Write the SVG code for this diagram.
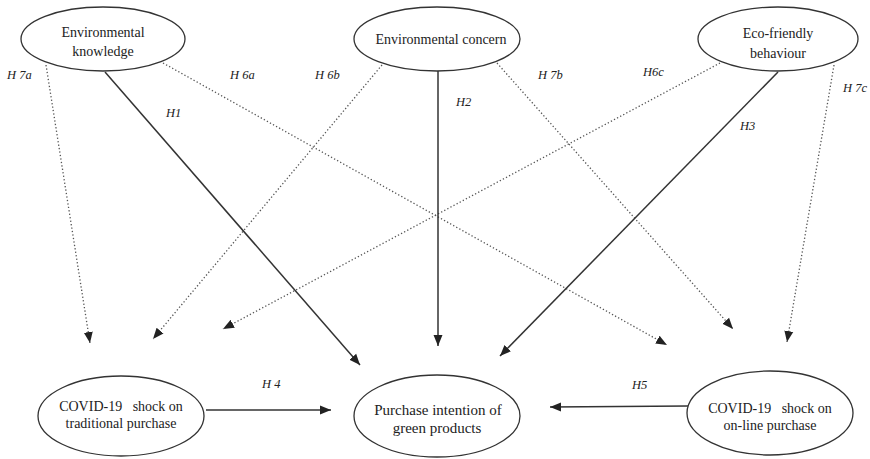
<svg xmlns="http://www.w3.org/2000/svg" width="870" height="459" viewBox="0 0 870 459">
<defs>
<marker id="arr" markerUnits="userSpaceOnUse" markerWidth="12" markerHeight="12" viewBox="0 0 12 12" refX="11" refY="6" orient="auto">
<path d="M0,1.5 L11,6 L0,10.5 Z" fill="#222"/>
</marker>
<style>
.node ellipse{fill:#fff;stroke:#333;stroke-width:1.3}
.node text{font-family:"Liberation Serif","Times New Roman",serif;font-size:14px;fill:#222;text-anchor:middle}
.solid{stroke:#333;stroke-width:1.5;fill:none;marker-end:url(#arr)}
.dot{stroke:#555;stroke-width:1.3;fill:none;stroke-dasharray:1.3,2.2;marker-end:url(#arr)}
.lbl{font-family:"Liberation Serif","Times New Roman",serif;font-style:italic;font-size:12.5px;fill:#222}
</style>
</defs>
<rect width="870" height="459" fill="#fff"/>
<g id="connectors">
<line class="dot" x1="46" y1="65" x2="90" y2="343"/>
<line class="dot" x1="163" y1="63" x2="667" y2="345"/>
<line class="dot" x1="382" y1="65" x2="153" y2="339"/>
<line class="dot" x1="497" y1="63" x2="733" y2="329"/>
<line class="dot" x1="720" y1="63" x2="223" y2="329"/>
<line class="dot" x1="834" y1="65" x2="787" y2="342"/>
<line class="solid" x1="105" y1="72" x2="360" y2="365"/>
<line class="solid" x1="438" y1="71" x2="438" y2="346"/>
<line class="solid" x1="778" y1="72" x2="500" y2="356"/>
<line class="solid" x1="206" y1="410" x2="331" y2="410"/>
<line class="solid" x1="688" y1="406" x2="550" y2="407"/>
<text class="lbl" x="7" y="79">H 7a</text>
<text class="lbl" x="230" y="79">H 6a</text>
<text class="lbl" x="166" y="117">H1</text>
<text class="lbl" x="315" y="79">H 6b</text>
<text class="lbl" x="456" y="106">H2</text>
<text class="lbl" x="538" y="79">H 7b</text>
<text class="lbl" x="643" y="76">H6c</text>
<text class="lbl" x="740" y="130">H3</text>
<text class="lbl" x="843" y="92">H 7c</text>
<text class="lbl" x="262" y="388">H 4</text>
<text class="lbl" x="632" y="389">H5</text>
</g>
<g id="env-knowledge" class="node">
<ellipse cx="103" cy="39" rx="82" ry="32"/>
<text x="103" y="37">Environmental</text>
<text x="103" y="56">knowledge</text>
</g>
<g id="env-concern" class="node">
<ellipse cx="437" cy="39" rx="83" ry="32"/>
<text x="441" y="44">Environmental  concern</text>
</g>
<g id="eco-behaviour" class="node">
<ellipse cx="778" cy="39" rx="80" ry="32"/>
<text x="778" y="38">Eco-friendly</text>
<text x="778" y="58">behaviour</text>
</g>
<g id="covid-traditional" class="node">
<ellipse cx="121" cy="416" rx="83" ry="40"/>
<text x="121" y="411" xml:space="preserve">COVID-19   shock on</text>
<text x="121" y="428">traditional purchase</text>
</g>
<g id="purchase-intention" class="node">
<ellipse cx="437" cy="416" rx="83" ry="41"/>
<text x="438" y="415" style="font-size:15px">Purchase intention  of</text>
<text x="437" y="433" style="font-size:15px">green products</text>
</g>
<g id="covid-online" class="node">
<ellipse cx="770" cy="413" rx="83" ry="42"/>
<text x="770" y="413" xml:space="preserve">COVID-19   shock on</text>
<text x="770" y="430">on-line purchase</text>
</g>
</svg>
